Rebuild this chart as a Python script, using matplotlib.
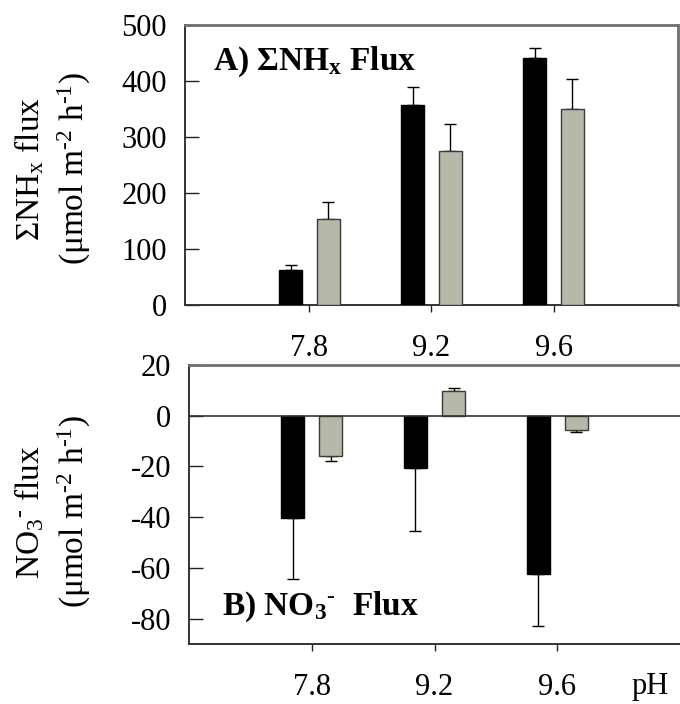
import matplotlib
matplotlib.use("Agg")
import matplotlib.pyplot as plt
import numpy as np

plt.rcParams['font.family'] = ['Liberation Serif', 'DejaVu Serif']
plt.rcParams['mathtext.fontset'] = 'custom'
plt.rcParams['mathtext.rm'] = 'Liberation Serif'
plt.rcParams['mathtext.it'] = 'Liberation Serif:italic'
plt.rcParams['mathtext.bf'] = 'Liberation Serif:bold'
plt.rcParams['axes.unicode_minus'] = False

# ---- data ----
ph_labels = ["7.8", "9.2", "9.6"]
nhx_black = [62, 357, 441]
nhx_black_err = [9, 32, 18]
nhx_gray = [153, 275, 350]
nhx_gray_err = [31, 48, 53]

no3_black = [-40.4, -20.8, -62.4]
no3_black_err = [23.9, 24.7, 20.7]
no3_gray = [-15.7, 9.8, -5.5]
no3_gray_err = [2.3, 1.2, 0.8]

BLACK = '#000000'
GRAY = '#b8b8aa'
EDGE = '#3a3a3a'
TICK_FS = 22
LABEL_FS = 24
TITLE_FS = 24
HY = '\u2010'

fig = plt.figure(figsize=(6.8, 7.04), dpi=100)
W, H = 680, 704
ax1 = fig.add_axes([185 / W, 1 - 305 / H, (678 - 185) / W, 280 / H])
ax2 = fig.add_axes([189 / W, 1 - 644 / H, (680 - 189) / W, 279 / H])

x = np.arange(len(ph_labels))
off = 0.155
bw = 0.185


def one_sided(vals, errs):
    lo = [e if v < 0 else 0 for v, e in zip(vals, errs)]
    hi = [e if v >= 0 else 0 for v, e in zip(vals, errs)]
    return [lo, hi]


for ax, b, be, g, ge in [
    (ax1, nhx_black, nhx_black_err, nhx_gray, nhx_gray_err),
    (ax2, no3_black, no3_black_err, no3_gray, no3_gray_err),
]:
    ax.bar(x - off, b, width=bw, color=BLACK, edgecolor=BLACK, linewidth=1, zorder=3)
    ax.bar(x + off, g, width=bw, color=GRAY, edgecolor=EDGE, linewidth=1, zorder=3)
    ax.errorbar(x - off, b, yerr=one_sided(b, be), fmt='none', ecolor='black',
                elinewidth=1, capsize=4, capthick=1, zorder=2)
    ax.errorbar(x + off, g, yerr=one_sided(g, ge), fmt='none', ecolor='black',
                elinewidth=1, capsize=4, capthick=1, zorder=2)
    ax.set_xticks(x)
    ax.set_xticklabels(ph_labels)
    ax.tick_params(axis='x', direction='out', length=5, width=1, pad=16,
                   labelsize=TICK_FS, colors='#222222', labelcolor='black')
    ax.tick_params(axis='y', direction='in', length=10, width=1, pad=13,
                   labelsize=TICK_FS, colors='#222222', labelcolor='black')
    for s in ['left', 'bottom']:
        ax.spines[s].set_color('#333333')
        ax.spines[s].set_linewidth(1.4)
    for s in ['top', 'right']:
        ax.spines[s].set_color('#707070')
        ax.spines[s].set_linewidth(2)

ax1.set_xlim(-1.02, 3.02)
ax1.set_ylim(0, 500)
ax1.set_yticks([0, 100, 200, 300, 400, 500])

ax2.set_xlim(-1.0, 3.0)
ax2.set_ylim(-90, 20)
ax2.set_yticks([-80, -60, -40, -20, 0, 20])
ax2.axhline(0, color='#333333', linewidth=1.2, zorder=4)
ax2.spines['right'].set_visible(False)

ax1.text(213 / W, 1 - 70 / H, r'A) ΣNH$_\mathbf{x}$ Flux', transform=fig.transFigure,
         fontsize=TITLE_FS, fontweight='bold', ha='left', va='baseline')
ax2.text(222 / W, 1 - 615 / H, 'B) NO$_\\mathbf{3}$$^{' + HY + '}$  Flux',
         transform=fig.transFigure,
         fontsize=TITLE_FS, fontweight='bold', ha='left', va='baseline')

fig.text(53 / W, 1 - 169 / H,
         'ΣNH$_\\mathrm{x}$ flux\n(μmol m$^{' + HY + '2}$ h$^{' + HY + '1}$)',
         rotation=90, ha='center', va='center', multialignment='center',
         fontsize=LABEL_FS, linespacing=1.35)
fig.text(53 / W, 1 - 512 / H,
         'NO$_3$$^{' + HY + '}$ flux\n(μmol m$^{' + HY + '2}$ h$^{' + HY + '1}$)',
         rotation=90, ha='center', va='center', multialignment='center',
         fontsize=LABEL_FS, linespacing=1.35)

ax2.annotate('pH', xy=(650 / W, 1 - 644 / H), xycoords='figure fraction',
             xytext=(0, -28), textcoords='offset pixels', ha='center', va='top',
             fontsize=TICK_FS)

fig.savefig('out.png', dpi=100)
